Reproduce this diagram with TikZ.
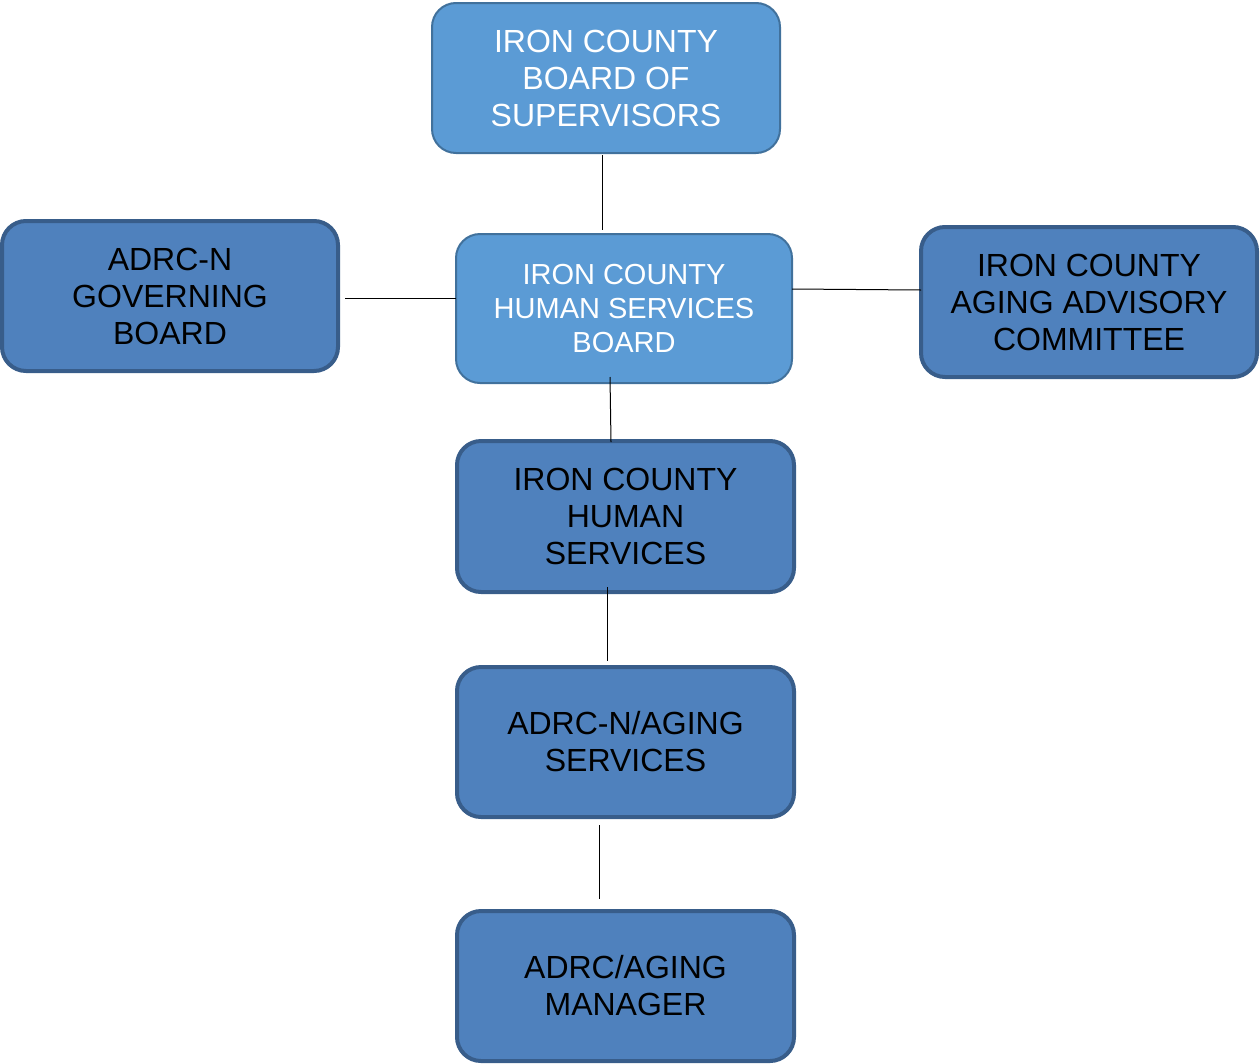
\documentclass[tikz,border=0pt]{standalone}
\usepackage{fontspec}
\setmainfont{Liberation Sans}
\definecolor{lightfill}{HTML}{5B9BD5}
\definecolor{lightedge}{HTML}{41719C}
\definecolor{darkfill}{HTML}{4F81BD}
\definecolor{darkedge}{HTML}{385D8A}
\begin{document}
\begin{tikzpicture}[x=1pt,y=-1pt,
  boxbase/.style={rectangle, rounded corners=24pt, inner sep=0pt, align=center},
  lightbox/.style={boxbase, fill=lightfill, draw=lightedge, line width=2pt, text=white},
  darkbox/.style={boxbase, fill=darkfill, draw=darkedge, line width=4pt, text=black},
  bigtxt/.style={font=\fontsize{32}{37}\selectfont},
  smalltxt/.style={font=\fontsize{29}{34}\selectfont},
  conn/.style={draw=black, line width=1pt}]
\useasboundingbox (0,0) rectangle (1260,1063);
\node[lightbox, bigtxt, minimum width=348pt, minimum height=150pt] (sup) at (606,78) {IRON COUNTY\\BOARD OF\\SUPERVISORS};
\node[lightbox, smalltxt, minimum width=336pt, minimum height=149pt] (hsb) at (624,308.5) {IRON COUNTY\\HUMAN SERVICES\\BOARD};
\node[darkbox, bigtxt, minimum width=336pt, minimum height=150pt] (gov) at (170,296) {ADRC-N\\GOVERNING\\BOARD};
\node[darkbox, bigtxt, minimum width=336pt, minimum height=150pt] (adv) at (1089,302) {IRON COUNTY\\AGING ADVISORY\\COMMITTEE};
\node[darkbox, bigtxt, minimum width=337pt, minimum height=151pt] (ichs) at (625.5,516.5) {IRON COUNTY\\HUMAN\\SERVICES};
\node[darkbox, bigtxt, minimum width=337pt, minimum height=150pt] (ags) at (625.5,742) {ADRC-N/AGING\\SERVICES};
\node[darkbox, bigtxt, minimum width=337pt, minimum height=150pt] (mgr) at (625.5,986) {ADRC/AGING\\MANAGER};
\coordinate (a1) at (602,155);
\coordinate (a2) at (602,230);
\coordinate (b1) at (345,298);
\coordinate (b2) at (456,298);
\coordinate (c1) at (792,289);
\coordinate (c2) at (921,290);
\coordinate (d1) at (610,377);
\coordinate (d2) at (611,442);
\coordinate (e1) at (607,587);
\coordinate (e2) at (607,661);
\coordinate (f1) at (599,825);
\coordinate (f2) at (599,899);
\draw[conn] (a1) -- (a2);
\draw[conn] (b1) -- (b2);
\draw[conn] (c1) -- (c2);
\draw[conn] (d1) -- (d2);
\draw[conn] (e1) -- (e2);
\draw[conn] (f1) -- (f2);
\end{tikzpicture}
\end{document}
